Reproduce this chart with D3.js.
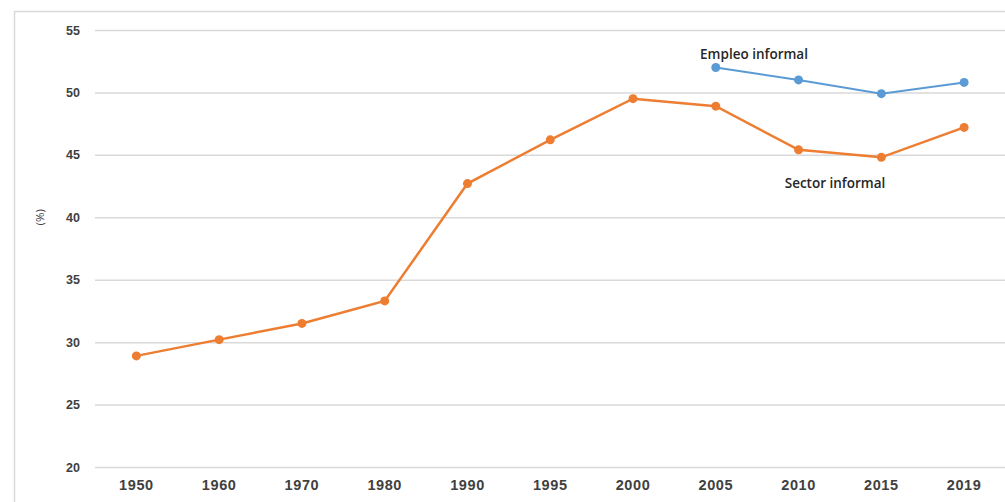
<!DOCTYPE html>
<html>
<head>
<meta charset="utf-8">
<script src="https://cdn.jsdelivr.net/npm/d3@7"></script>
<style>
  body { margin: 0; background: #fff; }
  svg { display: block; font-family: "Open Sans", "DejaVu Sans", sans-serif; }
</style>
</head>
<body>
<script>
// data
const years = ["1950","1960","1970","1980","1990","1995","2000","2005","2010","2015","2019"];
const sectorInformal = [28.9, 30.2, 31.5, 33.3, 42.7, 46.2, 49.5, 48.9, 45.4, 44.8, 47.2];
const empleoYears = ["2005","2010","2015","2019"];
const empleoInformal = [52.0, 51.0, 49.9, 50.8];
const yTicks = [20, 25, 30, 35, 40, 45, 50, 55];

const W = 1005, H = 502;
const margin = {top: 30, right: 0, bottom: 35, left: 95};

const svg = d3.select("body").append("svg")
  .attr("width", W)
  .attr("height", H);

// outer frame
svg.append("rect")
  .attr("x", 14.5).attr("y", 11.5)
  .attr("width", W).attr("height", H)
  .attr("fill", "none")
  .attr("stroke", "#d9d9d9")
  .attr("stroke-width", 1.5);

const x = d3.scaleBand()
  .domain(years)
  .range([margin.left, W + 0.5]);

const y = d3.scaleLinear()
  .domain([20, 55])
  .range([467, 30]);

// gridlines + y labels
const yAxis = svg.append("g")
  .attr("transform", `translate(${margin.left},0)`)
  .call(d3.axisLeft(y).tickValues(yTicks).tickSize(-(W - margin.left)).tickPadding(15));
yAxis.select(".domain").remove();
yAxis.selectAll(".tick line").attr("stroke", "#d9d9d9").attr("stroke-width", 1.5);
yAxis.selectAll(".tick text")
  .attr("fill", "#404040")
  .style("font-size", "12.5px")
  .style("font-weight", "bold");

// x labels
const xAxis = svg.append("g")
  .attr("transform", `translate(0,${y(20)})`)
  .call(d3.axisBottom(x).tickSize(0).tickPadding(13));
xAxis.select(".domain").remove();
xAxis.selectAll(".tick text")
  .attr("fill", "#404040")
  .style("font-size", "14.5px")
  .style("letter-spacing", "0.6px")
  .style("font-weight", "bold");

// y title
svg.append("text")
  .attr("transform", `translate(44,${y(40)}) rotate(-90)`)
  .attr("text-anchor", "middle")
  .attr("fill", "#404040")
  .style("font-size", "11.5px")
  .text("(%)");

const cx = d => x(d) + x.bandwidth() / 2;

// Sector informal
const sector = years.map((yr, i) => ({yr, v: sectorInformal[i]}));
svg.append("path")
  .datum(sector)
  .attr("fill", "none")
  .attr("stroke", "#ED7D31")
  .attr("stroke-width", 2.5)
  .attr("d", d3.line().x(d => cx(d.yr)).y(d => y(d.v)));
svg.selectAll(".pt-s")
  .data(sector)
  .join("circle")
    .attr("cx", d => cx(d.yr))
    .attr("cy", d => y(d.v))
    .attr("r", 4.5)
    .attr("fill", "#ED7D31");

// Empleo informal
const empleo = empleoYears.map((yr, i) => ({yr, v: empleoInformal[i]}));
svg.append("path")
  .datum(empleo)
  .attr("fill", "none")
  .attr("stroke", "#5B9BD5")
  .attr("stroke-width", 2)
  .attr("d", d3.line().x(d => cx(d.yr)).y(d => y(d.v)));
svg.selectAll(".pt-e")
  .data(empleo)
  .join("circle")
    .attr("cx", d => cx(d.yr))
    .attr("cy", d => y(d.v))
    .attr("r", 4.5)
    .attr("fill", "#5B9BD5");

// series labels
svg.append("text")
  .attr("x", 754).attr("y", 59)
  .attr("text-anchor", "middle")
  .attr("fill", "#262626")
  .style("font-size", "13.5px")
  .style("font-weight", 600)
  .text("Empleo informal");

svg.append("text")
  .attr("x", 835).attr("y", 188)
  .attr("text-anchor", "middle")
  .attr("fill", "#262626")
  .style("font-size", "13.5px")
  .style("font-weight", 600)
  .text("Sector informal");
</script>
</body>
</html>
